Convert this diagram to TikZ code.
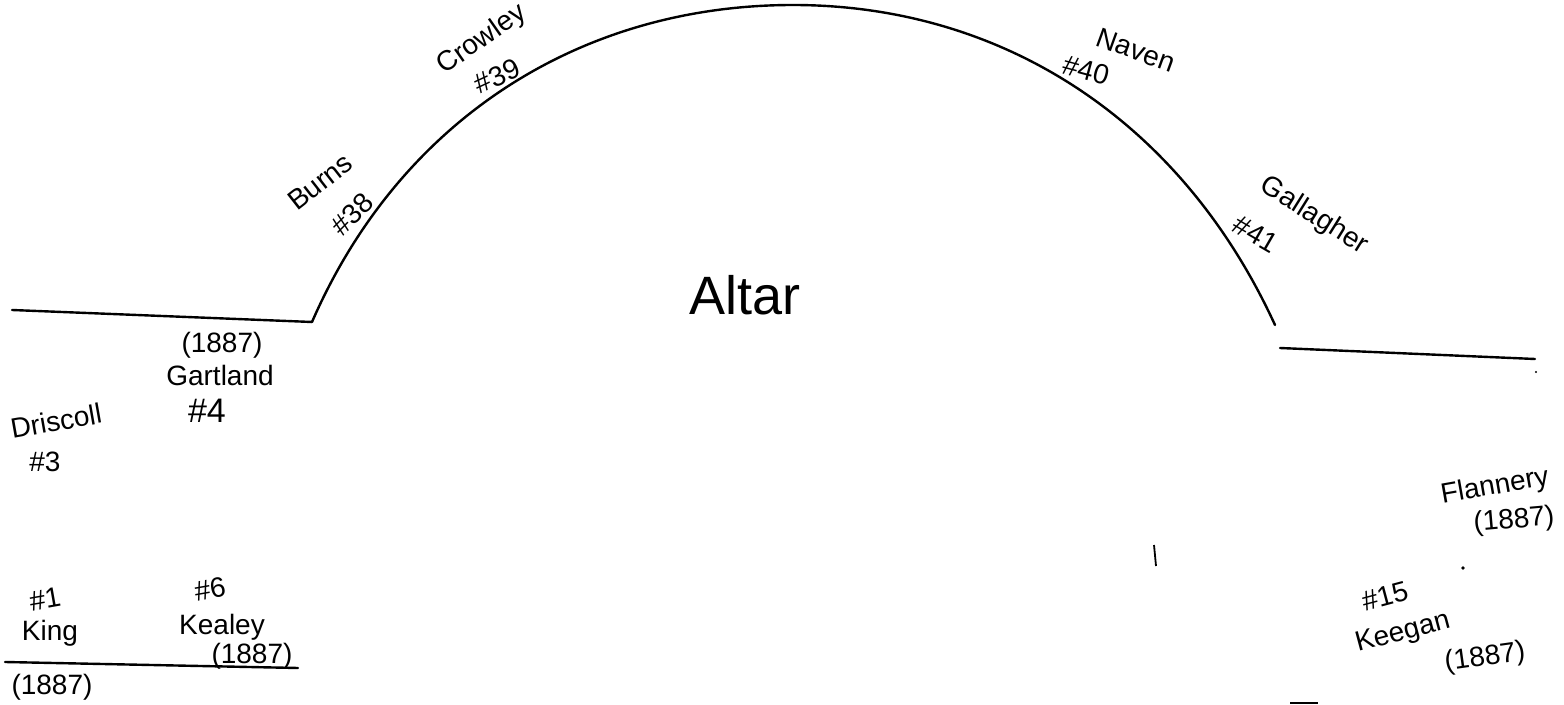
\documentclass[tikz,border=0pt]{standalone}
\usepackage{fontspec}
\setmainfont{Liberation Sans}
\begin{document}
\begin{tikzpicture}[x=0.5pt,y=-0.5pt,
  wall/.style={line width=1.2pt,line cap=round},
  lbl/.style={inner sep=0pt,font=\fontsize{14}{14}\selectfont},
  num/.style={inner sep=0pt,font=\fontsize{14}{14}\selectfont},
  speck/.style={fill=black,draw=none}]
\useasboundingbox (0,0) rectangle (1564,705);
% walls
\coordinate (lw1) at (12,310);
\coordinate (lw2) at (312,322);
\coordinate (top) at (793,5);
\coordinate (rw1) at (1275,325);
\coordinate (rw2) at (1280,348);
\coordinate (rw3) at (1535,359);
\coordinate (bw1) at (5,662);
\coordinate (bw2) at (298,668);
\draw[wall] (lw1) -- (lw2);
\draw[wall] (lw2) .. controls (400,120) and (580,5) .. (top)
            .. controls (1000,5) and (1180,118) .. (rw1);
\draw[wall] (rw2) -- (rw3);
\draw[wall] (bw1) -- (bw2);
% stray marks
\coordinate (t1) at (1154,545);
\coordinate (t2) at (1156,566);
\draw[line width=0.9pt] (t1) -- (t2);
\coordinate (d1) at (1463,568);
\fill[speck] (d1) circle (1.8);
\coordinate (d2) at (1536,372);
\fill[speck] (d2) circle (1.2);
\coordinate (m1) at (1290,703);
\coordinate (m2) at (1318,703);
\draw[line width=0.8pt] (m1) -- (m2);
% arc labels
\node[lbl,rotate=35] (crowley) at (482,40) {Crowley};
\node[num,rotate=25] (n39) at (497,76) {\#39};
\node[lbl,rotate=38] (burns) at (320,182) {Burns};
\node[num,rotate=45] (n38) at (352,214) {\#38};
\node[lbl,rotate=-20] (naven) at (1136,50) {Naven};
\node[num,rotate=-15] (n40) at (1086,70) {\#40};
\node[lbl,rotate=-32] (gallagher) at (1314,216) {Gallagher};
\node[num,rotate=-30] (n41) at (1256,234) {\#41};
% altar
\node[inner sep=0pt,font=\fontsize{27}{27}\selectfont] (altar) at (745,295) {Altar};
% left side
\node[lbl] (y4) at (222,345) {(1887)};
\node[lbl] (gartland) at (220,375) {Gartland};
\node[num,font=\fontsize{17}{17}\selectfont] (n4) at (207,411) {\#4};
\node[lbl,rotate=10] (driscoll) at (56,421) {Driscoll};
\node[num] (n3) at (45,462) {\#3};
\node[num,rotate=10] (n1) at (45,599) {\#1};
\node[lbl] (king) at (50,633) {King};
\node[lbl] (y1) at (52,687) {(1887)};
\node[num,rotate=10] (n6) at (210,589) {\#6};
\node[lbl] (kealey) at (222,627) {Kealey};
\node[lbl] (y6) at (252,656) {(1887)};
% right side
\node[lbl,rotate=10] (flannery) at (1495,487) {Flannery};
\node[lbl,rotate=5] (yf) at (1514,521) {(1887)};
\node[num,rotate=15] (n15) at (1385,596) {\#15};
\node[lbl,rotate=15] (keegan) at (1403,633) {Keegan};
\node[lbl,rotate=8] (y15) at (1485,658) {(1887)};
\end{tikzpicture}
\end{document}
